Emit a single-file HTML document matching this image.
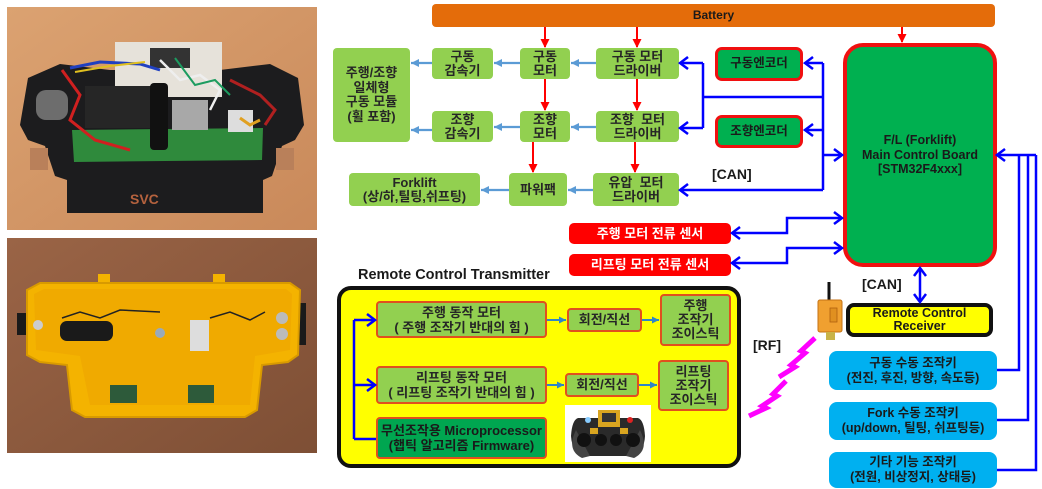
<!DOCTYPE html>
<html><head><meta charset="utf-8">
<style>
*{box-sizing:border-box;margin:0;padding:0}
body{width:1042px;height:489px;overflow:hidden;background:#fff;position:relative;font-family:"Liberation Sans","Noto Sans CJK KR",sans-serif;font-weight:bold;color:#222}
svg{position:absolute;left:0;top:0}
.b{position:absolute;display:flex;align-items:center;justify-content:center;text-align:center;font-size:13px;line-height:13.5px;white-space:nowrap}
.g{background:#92d050;border-radius:4px;color:#262626}
.enc{background:#00b050;border:3px solid #f01010;border-radius:7px;font-size:12.5px;color:#1a1a1a}
.sen{background:#ff0000;border-radius:5px;color:#fff;font-size:13px}
.t{background:#92d050;border:2px solid #e0501e;border-radius:4px;color:#262626}
.bl{background:#00b0f0;border-radius:8px;color:#1a1a1a;font-size:12.5px;line-height:15px}
.lbl{position:absolute;font-size:14px;white-space:nowrap;color:#1a1a1a}
</style></head><body>

<!-- photos -->
<svg width="1042" height="489" viewBox="0 0 1042 489">
<defs>
<linearGradient id="w1" x1="0" y1="0" x2="1" y2="1"><stop offset="0" stop-color="#dba271"/><stop offset="1" stop-color="#c9895a"/></linearGradient>
<linearGradient id="w2" x1="0" y1="0" x2="1" y2="1"><stop offset="0" stop-color="#9a6446"/><stop offset="1" stop-color="#7e4f35"/></linearGradient>
</defs>
<rect x="7" y="7" width="310" height="223" fill="url(#w1)"/>
<polygon points="20,125 28,78 60,64 110,70 220,70 270,64 298,78 304,125 295,140 282,146 272,176 263,180 263,213 67,213 67,180 55,176 45,146 28,140" fill="#1c1c1e"/>
<rect x="30" y="148" width="18" height="22" fill="#b9805a"/>
<rect x="276" y="148" width="18" height="22" fill="#b9805a"/>
<rect x="36" y="90" width="32" height="30" rx="10" fill="#6d6d6d"/>
<polygon points="72,130 263,128 262,160 74,162" fill="#2f8a3c"/>
<rect x="115" y="42" width="107" height="55" fill="#e6e2da"/>
<rect x="150" y="48" width="40" height="20" fill="#333"/>
<rect x="85" y="86" width="80" height="42" fill="#262626"/>
<rect x="150" y="83" width="18" height="67" rx="4" fill="#111"/>
<rect x="172" y="100" width="36" height="30" fill="#a8a8a8"/>
<rect x="228" y="110" width="25" height="22" fill="#ddd"/>
<polyline points="62,70 80,95 70,120 95,140 130,150" fill="none" stroke="#d02020" stroke-width="3"/>
<polyline points="70,68 100,62 140,64 160,70" fill="none" stroke="#2040c0" stroke-width="3"/>
<polyline points="75,72 110,66 145,62" fill="none" stroke="#e0c020" stroke-width="2"/>
<polyline points="160,60 180,80 200,75 220,90 210,110" fill="none" stroke="#eee" stroke-width="2.5"/>
<polyline points="175,58 195,85 215,80 230,95" fill="none" stroke="#1c9c60" stroke-width="2"/>
<polyline points="230,80 260,95 275,110 265,125" fill="none" stroke="#b02020" stroke-width="3"/>
<polyline points="240,118 250,125 260,120" fill="none" stroke="#e0a020" stroke-width="3"/>
<text x="130" y="204" font-family="Liberation Sans,sans-serif" font-size="14" font-weight="bold" fill="#b5623e">SVC</text>

<rect x="7" y="238" width="310" height="215" fill="url(#w2)"/>
<rect x="17" y="313" width="9" height="22" fill="#1a1a1a"/>
<rect x="297" y="303" width="9" height="42" fill="#1a1a1a"/>
<rect x="98" y="274" width="12" height="12" fill="#f4b300"/>
<rect x="213" y="274" width="12" height="12" fill="#f4b300"/>
<polygon points="27,290 40,283 290,283 300,290 298,355 288,362 262,365 257,410 245,417 85,417 72,410 67,365 40,362 27,355" fill="#f4b300" stroke="#d89a00" stroke-width="2"/>
<polygon points="34,294 44,289 286,289 292,294 290,350 255,356 250,405 90,405 80,356 36,350" fill="#f0aa00"/>
<rect x="60" y="321" width="53" height="20" rx="7" fill="#1a1a1a"/>
<rect x="190" y="320" width="19" height="31" fill="#ddd"/>
<circle cx="160" cy="333" r="5" fill="#9ab"/>
<rect x="110" y="385" width="27" height="18" fill="#2d5a3a"/>
<rect x="188" y="385" width="26" height="18" fill="#2d5a3a"/>
<circle cx="282" cy="318" r="6" fill="#bbb"/><circle cx="282" cy="334" r="6" fill="#bbb"/>
<circle cx="38" cy="325" r="5" fill="#ccc"/>
<polyline points="62,318 80,312 100,318 120,310 160,312" fill="none" stroke="#222" stroke-width="1.5"/>
<polyline points="210,318 230,312 250,320 265,312" fill="none" stroke="#222" stroke-width="1.5"/>

<!-- antenna device -->
<line x1="829" y1="282" x2="829" y2="301" stroke="#111" stroke-width="3"/>
<rect x="818" y="300" width="24" height="32" rx="2" fill="#f0a030" stroke="#c47214" stroke-width="1"/>
<rect x="830" y="308" width="7" height="14" fill="#e09020" stroke="#b06010" stroke-width="0.8"/>
<rect x="826" y="332" width="9" height="8" fill="#c9b348"/>

<!-- lightning -->
<polyline points="815,338 801,351 805,353 791,365 795,367 779,377" fill="none" stroke="#ff00ff" stroke-width="5" stroke-linejoin="miter"/>
<polyline points="786,381 773,394 777,396 762,406 766,408 749,416" fill="none" stroke="#ff00ff" stroke-width="5" stroke-linejoin="miter"/>
</svg>

<!-- battery -->
<div class="b" style="left:432px;top:4px;width:563px;height:23px;background:#e46c0a;border-radius:4px;font-size:12px;color:#1a1a1a">Battery</div>

<!-- top green boxes -->
<div class="b g" style="left:333px;top:48px;width:77px;height:94px;line-height:14.5px">주행/조향<br>일체형<br>구동 모듈<br>(휠 포함)</div>
<div class="b g" style="left:432px;top:48px;width:61px;height:31px">구동<br>감속기</div>
<div class="b g" style="left:520px;top:48px;width:50px;height:31px">구동<br>모터</div>
<div class="b g" style="left:596px;top:48px;width:83px;height:31px">구동 모터<br>드라이버</div>
<div class="b g" style="left:432px;top:111px;width:61px;height:31px">조향<br>감속기</div>
<div class="b g" style="left:520px;top:111px;width:50px;height:31px">조향<br>모터</div>
<div class="b g" style="left:596px;top:111px;width:83px;height:31px">조향&nbsp; 모터<br>드라이버</div>
<div class="b g" style="left:349px;top:173px;width:131px;height:33px">Forklift<br>(상/하,틸팅,쉬프팅)</div>
<div class="b g" style="left:509px;top:173px;width:58px;height:33px">파워팩</div>
<div class="b g" style="left:593px;top:173px;width:86px;height:33px">유압&nbsp; 모터<br>드라이버</div>

<!-- encoders -->
<div class="b enc" style="left:715px;top:47px;width:88px;height:34px">구동엔코더</div>
<div class="b enc" style="left:715px;top:115px;width:88px;height:33px">조향엔코더</div>

<!-- main board -->
<div class="b" style="left:843px;top:43px;width:154px;height:224px;background:#00b050;border:4px solid #f01010;border-radius:20px;font-size:12.5px;line-height:14.5px;color:#1a1a1a">F/L (Forklift)<br>Main Control Board<br>[STM32F4xxx]</div>

<div class="lbl" style="left:712px;top:166px">[CAN]</div>

<!-- sensors -->
<div class="b sen" style="left:569px;top:223px;width:162px;height:21px">주행 모터 전류 센서</div>
<div class="b sen" style="left:569px;top:254px;width:162px;height:22px">리프팅 모터 전류 센서</div>

<!-- transmitter -->
<div class="lbl" style="left:358px;top:267px;font-size:14.5px">Remote Control Transmitter</div>
<div style="position:absolute;left:337px;top:286px;width:404px;height:182px;background:#ffff00;border:4px solid #111;border-radius:14px"></div>
<div class="b t" style="left:376px;top:301px;width:171px;height:37px;line-height:15px">주행 동작 모터<br>( 주행 조작기 반대의 힘 )</div>
<div class="b t" style="left:567px;top:308px;width:75px;height:24px">회전/직선</div>
<div class="b t" style="left:660px;top:294px;width:71px;height:52px;line-height:14px">주행<br>조작기<br>조이스틱</div>
<div class="b t" style="left:376px;top:366px;width:171px;height:38px;line-height:15px">리프팅 동작 모터<br>( 리프팅 조작기 반대의 힘 )</div>
<div class="b t" style="left:565px;top:373px;width:74px;height:24px">회전/직선</div>
<div class="b t" style="left:658px;top:360px;width:71px;height:51px;line-height:14px">리프팅<br>조작기<br>조이스틱</div>
<div class="b t" style="left:376px;top:417px;width:171px;height:42px;line-height:15px;background:#00a650;color:#1a1a1a">무선조작용 Microprocessor<br>(햅틱 알고리즘 Firmware)</div>

<!-- receiver side -->
<div class="lbl" style="left:862px;top:276px">[CAN]</div>
<div class="b" style="left:846px;top:303px;width:147px;height:34px;background:#ffff00;border:4px solid #111;border-radius:8px;font-size:12.5px;line-height:13px;color:#1a1a1a">Remote Control<br>Receiver</div>
<div class="lbl" style="left:753px;top:337px">[RF]</div>

<div class="b bl" style="left:829px;top:351px;width:168px;height:39px">구동 수동 조작키<br>(전진, 후진, 방향, 속도등)</div>
<div class="b bl" style="left:829px;top:402px;width:168px;height:38px">Fork 수동 조작키<br>(up/down, 틸팅, 쉬프팅등)</div>
<div class="b bl" style="left:829px;top:452px;width:168px;height:36px">기타 기능 조작키<br>(전원, 비상정지, 상태등)</div>

<!-- connectors + controller image -->
<svg width="1042" height="489" viewBox="0 0 1042 489">
<defs>
<marker id="ra" markerWidth="9" markerHeight="9" refX="8" refY="4.5" orient="auto" markerUnits="userSpaceOnUse"><path d="M0,0 L9,4.5 L0,9z" fill="#ff0000"/></marker>
<marker id="la" markerWidth="9" markerHeight="9" refX="8" refY="4.5" orient="auto" markerUnits="userSpaceOnUse"><path d="M0,0.5 L8,4.5 L0,8.5z" fill="#5b9bd5"/></marker>
<marker id="ta" markerWidth="8" markerHeight="8" refX="7" refY="4" orient="auto" markerUnits="userSpaceOnUse"><path d="M0,0.5 L7,4 L0,7.5z" fill="#2f86c6"/></marker>
<marker id="bo" markerWidth="12" markerHeight="14" refX="10" refY="7" orient="auto-start-reverse" markerUnits="userSpaceOnUse"><path d="M2,1 L10,7 L2,13" fill="none" stroke="#0000ff" stroke-width="2.5"/></marker>
</defs>

<!-- controller image -->
<rect x="565" y="405" width="86" height="57" fill="#fff"/>
<path d="M578,418 Q572,420 571,436 Q572,456 590,456 L626,456 Q644,456 645,436 Q644,420 638,418 Z" fill="#2a2a2a"/>
<path d="M576,430 Q566,450 582,458 L590,456 Z" fill="#444"/>
<path d="M640,430 Q650,450 634,458 L626,456 Z" fill="#444"/>
<rect x="598" y="410" width="22" height="17" fill="#d9a520"/>
<rect x="602" y="413" width="14" height="9" fill="#333"/>
<circle cx="584" cy="440" r="7" fill="#111"/><circle cx="601" cy="440" r="6" fill="#111"/>
<circle cx="616" cy="440" r="6" fill="#111"/><circle cx="633" cy="440" r="7" fill="#111"/>
<rect x="590" y="428" width="8" height="6" fill="#d9a520"/><rect x="620" y="428" width="8" height="6" fill="#d9a520"/>
<circle cx="588" cy="420" r="3" fill="#8cf"/><circle cx="630" cy="420" r="3" fill="#d22"/>

<g stroke="#ff0000" stroke-width="2" fill="none" marker-end="url(#ra)">
<line x1="545" y1="27" x2="545" y2="47"/>
<line x1="637" y1="27" x2="637" y2="47"/>
<line x1="902" y1="27" x2="902" y2="42"/>
<line x1="545" y1="79" x2="545" y2="110"/>
<line x1="637" y1="79" x2="637" y2="110"/>
<line x1="533" y1="142" x2="533" y2="172"/>
<line x1="635" y1="142" x2="635" y2="172"/>
</g>
<g stroke="#5b9bd5" stroke-width="2.2" fill="none" marker-end="url(#la)">
<line x1="596" y1="63" x2="571" y2="63"/>
<line x1="520" y1="63" x2="494" y2="63"/>
<line x1="432" y1="63" x2="411" y2="63"/>
<line x1="596" y1="127" x2="571" y2="127"/>
<line x1="520" y1="127" x2="494" y2="127"/>
<line x1="432" y1="130" x2="411" y2="130"/>
<line x1="593" y1="190" x2="568" y2="190"/>
<line x1="509" y1="190" x2="481" y2="190"/>
</g>
<g stroke="#2f86c6" stroke-width="2" fill="none" marker-end="url(#ta)">
<line x1="547" y1="320" x2="566" y2="320"/>
<line x1="642" y1="320" x2="659" y2="320"/>
<line x1="547" y1="385" x2="564" y2="385"/>
<line x1="639" y1="385" x2="657" y2="385"/>
</g>
<g stroke="#0000ff" stroke-width="2.5" fill="none">
<line x1="823" y1="63" x2="823" y2="190"/>
<line x1="823" y1="97" x2="703" y2="97"/>
<line x1="703" y1="63" x2="703" y2="128"/>
<line x1="823" y1="63" x2="805" y2="63" marker-end="url(#bo)"/>
<line x1="823" y1="130" x2="805" y2="130" marker-end="url(#bo)"/>
<line x1="823" y1="155" x2="842" y2="155" marker-end="url(#bo)"/>
<line x1="703" y1="63" x2="680" y2="63" marker-end="url(#bo)"/>
<line x1="703" y1="128" x2="680" y2="128" marker-end="url(#bo)"/>
<line x1="823" y1="190" x2="680" y2="190" marker-end="url(#bo)"/>
<polyline points="842,218 787,218 787,233 732,233" marker-start="url(#bo)" marker-end="url(#bo)"/>
<polyline points="842,248 787,248 787,263 732,263" marker-start="url(#bo)" marker-end="url(#bo)"/>
<line x1="920" y1="268" x2="920" y2="302" marker-start="url(#bo)" marker-end="url(#bo)"/>
<line x1="1036" y1="155" x2="997" y2="155" marker-end="url(#bo)"/>
<polyline points="1019,155 1019,370 997,370"/>
<polyline points="1028,155 1028,420 997,420"/>
<polyline points="1036,155 1036,470 997,470"/>
<line x1="354" y1="320" x2="354" y2="439"/>
<line x1="354" y1="320" x2="375" y2="320" marker-end="url(#bo)"/>
<line x1="354" y1="385" x2="375" y2="385" marker-end="url(#bo)"/>
<line x1="354" y1="439" x2="376" y2="439"/>
</g>
</svg>
</body></html>
